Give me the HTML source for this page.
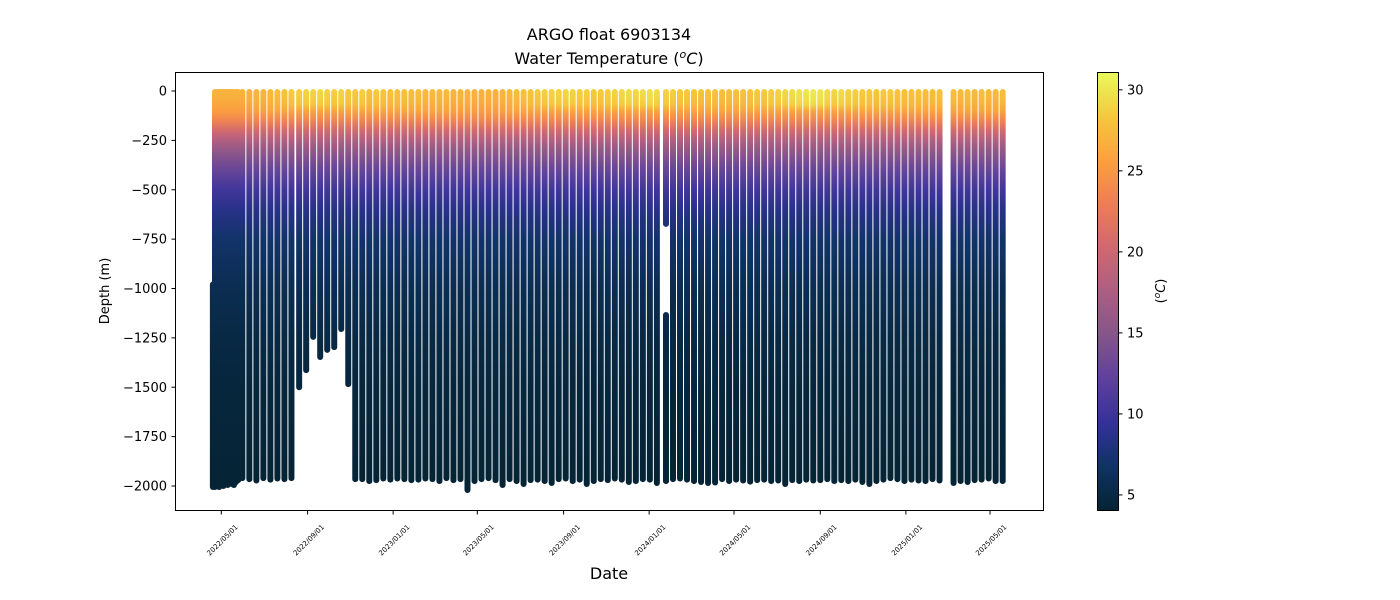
<!DOCTYPE html>
<html><head><meta charset="utf-8"><style>
html,body{margin:0;padding:0;background:#fff;}
svg{display:block;font-family:"DejaVu Sans","Liberation Sans",sans-serif;}
</style></head><body>
<svg id="chart" width="1400" height="600" viewBox="0 0 1400 600" xmlns="http://www.w3.org/2000/svg">
<defs id="defs">
<linearGradient id="cbar" x1="0" y1="1" x2="0" y2="0">
<stop offset="0" stop-color="#042333"/><stop offset="0.1" stop-color="#0f3364"/><stop offset="0.2" stop-color="#34319a"/>
<stop offset="0.3" stop-color="#5e409c"/><stop offset="0.4" stop-color="#845589"/><stop offset="0.5" stop-color="#ad5e83"/>
<stop offset="0.6" stop-color="#d0686f"/><stop offset="0.7" stop-color="#ee7d56"/><stop offset="0.8" stop-color="#fba03e"/>
<stop offset="0.9" stop-color="#f5c83c"/><stop offset="1" stop-color="#e8fa5b"/>
</linearGradient>
</defs>
<text x="609" y="40" font-size="16" text-anchor="middle">ARGO float 6903134</text>
<text x="609" y="64" font-size="16" text-anchor="middle">Water Temperature (<tspan font-style="italic" font-size="11" dy="-6">o</tspan><tspan font-style="italic" dy="6">C</tspan>)</text>
<g id="plot"></g>
<rect x="175.5" y="72.5" width="868" height="438" fill="none" stroke="#000" stroke-width="1"/>
<g id="yaxis"></g>
<g id="xaxis"></g>
<text transform="translate(109,291) rotate(-90)" font-size="13" text-anchor="middle">Depth (m)</text>
<text x="609" y="579" font-size="16" text-anchor="middle">Date</text>
<rect x="1097.5" y="72.5" width="21" height="438" fill="url(#cbar)" stroke="#000" stroke-width="1"/>
<g id="cbaxis"></g>
<text transform="translate(1165,291) rotate(-90)" font-size="13" text-anchor="middle">(<tspan font-style="italic" font-size="9" dy="-5">o</tspan><tspan font-style="italic" dy="5">C</tspan>)</text>
</svg>
<script>
// ---- data ----
const tickLabelsY = [0,-250,-500,-750,-1000,-1250,-1500,-1750,-2000];
const tickDatesX = ["2022/05/01","2022/09/01","2023/01/01","2023/05/01","2023/09/01","2024/01/01","2024/05/01","2024/09/01","2025/01/01","2025/05/01"];
const cbTicks = [5,10,15,20,25,30];
// profile dates as day offsets from 2022-05-01
const profileDays = [-12,-9,-6,-3,0,3,6,9,12,15,18,21,24,
30,40,50,60,70,80,90,100,111,121,131,141,151,161,171,181,191,201,211,221,231,241,251,261,271,281,291,301,311,321,331,341,351,361,371,381,
391,401,411,421,431,441,451,461,471,481,491,501,511,521,531,541,551,561,571,581,591,601,611,621,634,644,654,664,674,684,694,704,714,724,734,744,754,
764,774,784,794,804,814,824,834,844,854,864,874,884,894,904,914,924,934,944,954,964,974,984,994,1004,1014,1024,
1044,1054,1064,1074,1084,1094,1104,1114];
const profileTop = [-980,-5,-5,-5,-5,-5,-5,-5,-5,-5,-5,-5,-5,
-5,-5,-5,-5,-5,-5,-5,-5,-5,-5,-5,-5,-5,-5,-5,-5,-5,-5,-5,-5,-5,-5,-5,-5,-5,-5,-5,-5,-5,-5,-5,-5,-5,-5,-5,-5,
-5,-5,-5,-5,-5,-5,-5,-5,-5,-5,-5,-5,-5,-5,-5,-5,-5,-5,-5,-5,-5,-5,-5,-5,-5,-5,-5,-5,-5,-5,-5,-5,-5,-5,-5,-5,-5,
-5,-5,-5,-5,-5,-5,-5,-5,-5,-5,-5,-5,-5,-5,-5,-5,-5,-5,-5,-5,-5,-5,-5,-5,-5,-5,-5,
-5,-5,-5,-5,-5,-5,-5,-5];
const profileBottom = [-2005,-2005,-1995,-2005,-1990,-2000,-1985,-1995,-1975,-1990,-1995,-1980,-1970,
-1960,-1965,-1972,-1960,-1968,-1962,-1965,-1960,-1500,-1413,-1245,-1347,-1311,-1297,-1205,-1484,-1965,-1965,-1975,-1970,-1962,-1968,-1962,-1965,-1970,-1968,-1962,-1965,-1975,-1960,-1970,-1965,-2020,-1975,-1965,-1960,
-1970,-1995,-1965,-1975,-1990,-1970,-1968,-1975,-1985,-1965,-1962,-1975,-1968,-1990,-1975,-1965,-1970,-1962,-1968,-1980,-1975,-1965,-1968,-1985,-1975,-1965,-1962,-1968,-1975,-1980,-1985,-1982,-1965,-1975,-1968,-1972,-1978,
-1970,-1968,-1975,-1972,-1990,-1970,-1975,-1968,-1972,-1970,-1965,-1975,-1970,-1975,-1968,-1980,-1990,-1975,-1968,-1960,-1965,-1975,-1968,-1972,-1975,-1965,-1972,
-1985,-1975,-1980,-1970,-1968,-1962,-1975,-1975];
const surfaceTemp = [27,27,27,27,27,27,27,27,27,27,27,27,27,
27,27,27.2,27.2,27.5,27.8,28,28.5,28.8,29,29,29.2,29,28.8,29,28.5,28.5,28.8,28,28.5,28.2,28,28,28,27.8,27.8,27.5,27.5,27.5,27.5,27.2,27.2,27.2,27,27,27,
27,27.2,27.5,27.8,28,28.2,28.5,28.8,29,29,29.2,29,28.8,28.8,28.5,28.5,28.8,29,29.3,29.5,29.2,29.5,29.8,29.5,29,28.8,28.5,28.5,28.2,28,28,28,27.8,27.8,27.8,28,28.2,
28.5,28.5,28.8,29,29.3,29.5,29.8,30,30.2,30,29.5,29.2,29.5,29,28.8,28.5,28.5,28.2,28.5,28.5,28.2,28,28,28,27.8,27.8,28,
27.8,27.5,27.8,27.5,27.8,27.5,27.5,27.8];
// gap in one profile (day, from-depth, to-depth)
const gapDays = [634];
const gapFrom = [-673];
const gapTo = [-1134];
// reference temperature profile (below mixed layer)
const refDepth = [100,150,200,250,300,400,500,600,750,1000,1250,1500,2000];
const refTemp  = [26,23.5,20.5,17.8,15.8,12.8,10.3,8.6,7,5.7,5,4.6,4.2];

// ---- scales ----
const x0 = 221.3, pxPerDay = 0.7014;
const xScale = d => x0 + d * pxPerDay;
const yScale = v => 91 + (0 - v) * (395/2000);
const tMin = 4.07, tMax = 31.1;
const cbScale = t => 510 - (t - tMin) / (tMax - tMin) * 438;
const stops = [[0,[4,35,51]],[0.1,[15,51,100]],[0.2,[52,49,154]],[0.3,[94,64,156]],[0.4,[132,85,137]],[0.5,[173,94,131]],[0.6,[208,104,111]],[0.7,[238,125,86]],[0.8,[251,160,62]],[0.9,[245,200,60]],[1,[232,250,91]]];
function tColor(t){
  let f=(t-tMin)/(tMax-tMin); f=Math.max(0,Math.min(1,f));
  for(let i=1;i<stops.length;i++){ if(f<=stops[i][0]){ const a=stops[i-1],b=stops[i]; const u=(f-a[0])/(b[0]-a[0]);
    const c=a[1].map((v,k)=>Math.round(v+(b[1][k]-v)*u)); return `rgb(${c[0]},${c[1]},${c[2]})`; } }
  return 'rgb(232,250,91)';
}
const NS='http://www.w3.org/2000/svg';
const defs=document.getElementById('defs');
const plot=document.getElementById('plot');
const yTop=yScale(0), yBot=yScale(-2000);
function mkGrad(i){
  const g=document.createElementNS(NS,'linearGradient');
  g.setAttribute('id','pg'+i);
  
  
  g.setAttribute('gradientUnits','userSpaceOnUse');
  g.setAttribute('x1',0);g.setAttribute('x2',0);g.setAttribute('y1',yTop);g.setAttribute('y2',yBot);
  const ts=surfaceTemp[i];
  const dd=[0,40,70].concat(refDepth), tt=[ts,ts-0.3,ts-0.9].concat(refTemp.map((v,k)=>k===0?Math.min(v,ts-1.5):v));
  dd.forEach((d,k)=>{const s=document.createElementNS(NS,'stop');s.setAttribute('offset',d/2000);s.setAttribute('stop-color',tColor(tt[k]));g.appendChild(s);});
  defs.appendChild(g);
}
function seg(i,a,b){
  const l=document.createElementNS(NS,'line');
  
  
  const x=xScale(profileDays[i]);
  l.setAttribute('x1',x);l.setAttribute('x2',x);l.setAttribute('y1',yScale(a));l.setAttribute('y2',yScale(b));
  l.setAttribute('stroke','url(#pg'+i+')');l.setAttribute('stroke-width',6);l.setAttribute('stroke-linecap','round');
  plot.appendChild(l);
}
profileDays.forEach((d,i)=>{
  mkGrad(i);
  const gi=gapDays.indexOf(d);
  if(gi>=0){ seg(i,profileTop[i],gapFrom[gi]); seg(i,gapTo[gi],profileBottom[i]); }
  else seg(i,profileTop[i],profileBottom[i]);
});
// y axis
const ya=document.getElementById('yaxis');
tickLabelsY.forEach(v=>{
  const y=yScale(v);
  const t=document.createElementNS(NS,'line');
  
  
  t.setAttribute('x1',171.5);t.setAttribute('x2',175.5);t.setAttribute('y1',y);t.setAttribute('y2',y);t.setAttribute('stroke','#000');
  ya.appendChild(t);
  const l=document.createElementNS(NS,'text');
  
  
  l.setAttribute('x',167);l.setAttribute('y',y+4.5);l.setAttribute('font-size',13);l.setAttribute('text-anchor','end');
  l.textContent=String(v).replace('-','\u2212');
  ya.appendChild(l);
});
// x axis
const xa=document.getElementById('xaxis');
const base=Date.UTC(2022,4,1);
tickDatesX.forEach(s=>{
  const p=s.split('/').map(Number);
  const d=(Date.UTC(p[0],p[1]-1,p[2])-base)/86400000;
  const x=xScale(d);
  const t=document.createElementNS(NS,'line');
  
  
  t.setAttribute('x1',x);t.setAttribute('x2',x);t.setAttribute('y1',510.5);t.setAttribute('y2',514.5);t.setAttribute('stroke','#000');
  xa.appendChild(t);
  const l=document.createElementNS(NS,'text');
  
  
  l.setAttribute('transform',`translate(${x+1},${540}) rotate(-45)`);
  l.setAttribute('font-size',7);l.setAttribute('text-anchor','middle');l.setAttribute('dy','2.5');
  l.textContent=s;
  xa.appendChild(l);
});
// colorbar axis
const ca=document.getElementById('cbaxis');
cbTicks.forEach(v=>{
  const y=cbScale(v);
  const t=document.createElementNS(NS,'line');
  
  
  t.setAttribute('x1',1118.5);t.setAttribute('x2',1122.5);t.setAttribute('y1',y);t.setAttribute('y2',y);t.setAttribute('stroke','#000');
  ca.appendChild(t);
  const l=document.createElementNS(NS,'text');
  
  
  l.setAttribute('x',1127);l.setAttribute('y',y+4.5);l.setAttribute('font-size',13);
  l.textContent=v;
  ca.appendChild(l);
});
</script>
</body></html>
